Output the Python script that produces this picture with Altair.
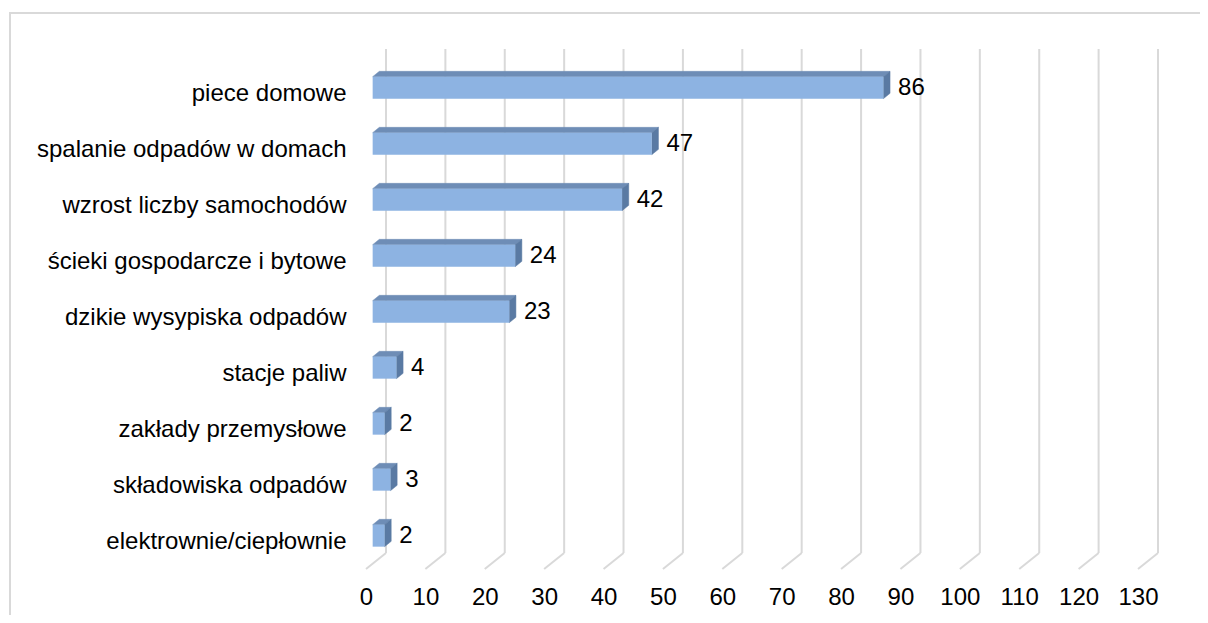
import json
import altair as alt
import pandas as pd

categories = [
    "piece domowe",
    "spalanie odpadów w domach",
    "wzrost liczby samochodów",
    "ścieki gospodarcze i bytowe",
    "dzikie wysypiska odpadów",
    "stacje paliw",
    "zakłady przemysłowe",
    "składowiska odpadów",
    "elektrownie/ciepłownie",
]
values = [86, 47, 42, 24, 23, 4, 2, 3, 2]
ticks = list(range(0, 140, 10))

# layout constants (plot area = front plane)
W, H = 772, 504
XMAX = 130
NCAT = len(categories)
PX_X = W / XMAX           # px per x unit
PX_Y = H / NCAT           # px per category
FX, FY = 20 / PX_X, 16 / PX_Y          # floor depth in data units
S1X, S1Y = FX / 3, FY / 3              # bar front offset
S2X, S2Y = 2 * FX / 3, 2 * FY / 3      # bar back offset
HH = 11 / PX_Y                          # half bar height

FRONT = "#8DB3E2"
TOP = "#6E8DB6"
SIDE = "#5A7AA3"
GRID = "#D9D9D9"
FONT = "Liberation Sans"
FS = 24

front_rows, top_rows, side_rows, label_rows = [], [], [], []
for i, (c, v) in enumerate(zip(categories, values)):
    yt = i + 0.5 - HH
    yb = i + 0.5 + HH
    front_rows.append(dict(cat=c, x=S1X, x2=v + S1X, y=yt - S1Y, y2=yb - S1Y))
    # top face polygon (closed)
    top = [
        (S1X, yt - S1Y),
        (v + S1X, yt - S1Y),
        (v + S2X, yt - S2Y),
        (S2X, yt - S2Y),
        (S1X, yt - S1Y),
    ]
    for k, (xx, yy) in enumerate(top):
        top_rows.append(dict(face=f"top{i}", pt=k, x=xx, y=yy))
    side = [
        (v + S1X, yt - S1Y),
        (v + S2X, yt - S2Y),
        (v + S2X, yb - S2Y),
        (v + S1X, yb - S1Y),
        (v + S1X, yt - S1Y),
    ]
    for k, (xx, yy) in enumerate(side):
        side_rows.append(dict(face=f"side{i}", pt=k, x=xx, y=yy))
    label_rows.append(dict(x=v + S2X, y=i + 0.5 - S1Y, txt=str(v)))

front_df = pd.DataFrame(front_rows)
top_df = pd.DataFrame(top_rows)
side_df = pd.DataFrame(side_rows)
label_df = pd.DataFrame(label_rows)
grid_df = pd.DataFrame(
    [dict(v=t, vb=t + FX, ytop=-FY, ybot=NCAT - FY, yfront=NCAT) for t in ticks]
)

xs = alt.Scale(domain=[0, XMAX], nice=False, zero=False)
ys = alt.Scale(domain=[0, NCAT], nice=False, zero=False, reverse=True)

label_expr = json.dumps(categories, ensure_ascii=False) + "[floor(datum.value)]"

# base layer carrying the axes
axes = alt.Chart(pd.DataFrame({"x": [0], "y": [0.5]})).mark_point(opacity=0).encode(
    x=alt.X("x:Q", scale=xs, title=None,
            axis=alt.Axis(values=ticks, grid=False, domain=False, ticks=False,
                          labelPadding=16, labelFontSize=FS, labelFont=FONT,
                          labelColor="#000000", labelFlush=False)),
    y=alt.Y("y:Q", scale=ys, title=None,
            axis=alt.Axis(values=[i + 0.5 for i in range(NCAT)], labelExpr=label_expr,
                          grid=False, domain=False, ticks=False, labelPadding=20,
                          labelFontSize=FS, labelFont=FONT, labelColor="#000000",
                          labelBaseline="middle", labelAlign="right", labelLimit=0)),
)

grid_v = alt.Chart(grid_df).mark_rule(color=GRID, strokeWidth=2).encode(
    x=alt.X("vb:Q", scale=xs), y=alt.Y("ytop:Q", scale=ys), y2="ybot:Q"
)
grid_d = alt.Chart(grid_df).mark_rule(color=GRID, strokeWidth=2).encode(
    x=alt.X("v:Q", scale=xs), x2="vb:Q", y=alt.Y("yfront:Q", scale=ys), y2="ybot:Q"
)

top_faces = alt.Chart(top_df).mark_line(
    filled=True, fill=TOP, stroke=TOP, strokeWidth=0.5, opacity=1, interpolate="linear-closed"
).encode(
    x=alt.X("x:Q", scale=xs),
    y=alt.Y("y:Q", scale=ys),
    detail="face:N",
    order=alt.Order("pt:Q"),
)
side_faces = alt.Chart(side_df).mark_line(
    filled=True, fill=SIDE, stroke=SIDE, strokeWidth=0.5, opacity=1, interpolate="linear-closed"
).encode(
    x=alt.X("x:Q", scale=xs),
    y=alt.Y("y:Q", scale=ys),
    detail="face:N",
    order=alt.Order("pt:Q"),
)

front = alt.Chart(front_df).mark_rect(color=FRONT).encode(
    x=alt.X("x:Q", scale=xs), x2="x2:Q", y=alt.Y("y:Q", scale=ys), y2="y2:Q"
)

vlabels = alt.Chart(label_df).mark_text(
    align="left", baseline="middle", dx=8, fontSize=FS, font=FONT, color="#000000"
).encode(x=alt.X("x:Q", scale=xs), y=alt.Y("y:Q", scale=ys), text="txt:N")

border = alt.Chart(pd.DataFrame({"a": [0]})).mark_rect(
    fill=None, stroke=GRID, strokeWidth=2
).encode(
    x=alt.value(10 - 8 - 358), x2=alt.value(1250 - 366),
    y=alt.value(13 - 8 - 57), y2=alt.value(660 - 65),
)

chart = alt.layer(border, grid_v, grid_d, axes, top_faces, side_faces, front, vlabels).properties(
    width=W, height=H,
    autosize=alt.AutoSizeParams(type="none"),
    padding={"left": 358, "top": 57, "right": 62, "bottom": 46},
    background="white",
).configure_view(stroke=None)

chart.save("out.html", embed_options={"renderer": "svg", "actions": False})
